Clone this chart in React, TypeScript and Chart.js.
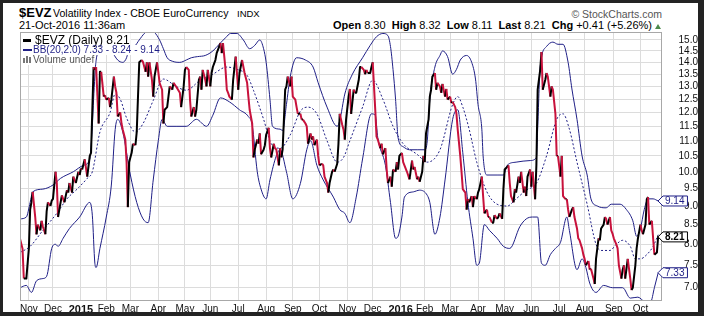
import React, { useEffect, useRef } from "react";
import { Chart, registerables } from "chart.js";

Chart.register(...registerables);

const FONT = "'Liberation Sans', Arial, Helvetica, sans-serif";
const NAVY = "#1f1f86";
const RED = "#c8123c";
const BLACK = "#000000";
const GRID = "#dcdcdc";

// x = trading-day number: 0 = 23-Oct-2014 ... 503 = 21-Oct-2016
const monthDay = [7, 26, 48, 68, 87, 109, 130, 150, 172, 194, 215, 236, 258, 278, 300, 319, 339, 361, 382, 403, 425, 445, 468, 489];
const monthLabel = ["Nov", "Dec", "2015", "Feb", "Mar", "Apr", "May", "Jun", "Jul", "Aug", "Sep", "Oct", "Nov", "Dec", "2016", "Feb", "Mar", "Apr", "May", "Jun", "Jul", "Aug", "Sep", "Oct"];
const yTicks = [7.0, 7.5, 8.0, 8.5, 9.0, 9.5, 10.0, 10.5, 11.0, 11.5, 12.0, 12.5, 13.0, 13.5, 14.0, 14.5, 15.0];

const lastPrice = 8.21;
const bbLower = 7.33;
const bbMiddle = 8.24;
const bbUpper = 9.14;

const evzClose: [number, number][] = [
  [0,8.14],[2,7.89],[3,7.2],[5,7.2],[7,7.9],[8,8.9],[9,9.1],[10,9.4],[12,8.7],[13,8.25],[14,8.5],[16,8.35],[17,8.6],[18,8.45],[20,8.25],[21,8.85],[22,9.1],[24,9.0],[25,9.15],[26,9.2],[28,10.0],[29,9.66],[30,8.7],[32,9.1],[33,9.3],[34,9.2],[35,9.1],[37,9.45],[38,9.38],[39,9.66],[41,9.38],[42,9.85],[44,9.66],[46,10.0],[47,9.9],[48,10.1],[49,10.07],[51,10.39],[53,9.85],[55,10.5],[56,10.6],
  [58,13.8],[59,13.68],[60,13.8],[62,11.6],[63,13.6],[64,13.6],[66,12.6],[67,12.65],[68,12.48],[70,12.55],[71,12.2],[72,12.48],[74,13.4],[75,13.0],[76,12.75],[77,11.85],[79,12.0],[80,11.6],[81,11.38],[83,11.04],[84,10.3],[85,8.97],[86,10.3],[88,10.6],[89,10.9],[91,10.85],[92,11.3],[93,12.6],[94,14.0],[96,14.1],[97,14.0],[99,13.6],[100,14.0],[101,13.4],[102,14.0],[104,13.27],[105,12.6],[106,13.4],[108,14.0],[109,13.6],[110,13.15],[112,12.87],[113,11.6],[114,12.1],[116,12.2],[117,12.6],[118,13.0],[120,12.87],[121,13.15],[123,13.0],[126,12.75],[127,12.2],[129,13.0],[130,13.68],[131,13.8],[133,13.68],[134,12.48],[135,11.85],[137,12.2],[138,11.85],[139,12.1],
  [141,13.27],[142,13.4],[143,12.87],[144,13.68],[146,13.27],[147,13.0],[148,13.68],[150,13.0],[151,13.55],[152,13.8],[154,14.1],[155,14.4],[156,14.55],[158,14.85],[159,14.4],[160,14.85],[162,13.68],[163,12.87],[164,12.75],[165,12.6],[167,12.48],[168,13.27],[170,14.25],[172,12.87],[173,13.55],[175,14.1],[177,13.55],[179,13.15],[180,12.6],[181,12.1],[183,11.6],[184,10.45],[185,10.7],[187,11.04],[188,10.9],[189,11.25],[190,10.55],[192,10.7],[193,10.85],[194,11.2],[196,11.45],[197,10.75],[198,10.45],[200,10.9],[201,10.75],[202,10.71],[204,10.2],[205,10.75],[206,10.45],[207,10.71],
  [209,12.87],[210,13.0],[211,13.4],[213,13.0],[214,13.4],[215,12.6],[217,12.48],[218,12.2],[219,11.95],[221,11.95],[222,11.74],[223,11.74],[225,11.6],[226,11.5],[227,10.9],[229,11.25],[230,11.04],[231,11.15],[232,10.85],[234,11.04],[235,10.5],[236,10.2],[238,10.25],[239,10.2],[240,9.85],[242,9.66],[243,9.38],[244,9.66],[246,10.0],[247,10.07],[248,10.0],[250,10.25],[251,10.9],[252,11.95],[254,11.55],[255,11.38],[256,11.04],[257,11.74],[259,12.6],[260,12.9],[261,11.95],[263,12.87],[264,12.75],[265,12.75],[267,13.27],[268,13.8],[269,13.8],[271,13.68],[272,13.5],[273,13.68],[274,13.55],[276,13.55],[277,13.8],[278,14.0],
  [280,12.1],[281,11.14],[282,11.04],[284,10.75],[285,10.9],[286,10.55],[288,10.75],[289,10.07],[290,9.66],[292,9.85],[293,9.55],[294,10.07],[296,10.0],[297,10.3],[298,10.07],[299,10.5],[301,10.6],[302,10.3],[305,10.0],[307,9.77],[309,10.35],[310,10.07],[311,10.15],[313,9.77],[314,9.85],[315,9.7],[317,10.0],[318,10.5],[319,10.3],[320,11.25],[322,11.74],[323,12.6],[324,12.87],[325,13.4],[327,13.55],[328,12.87],[329,13.15],[331,13.0],[332,12.75],[333,13.1],[335,12.6],[336,12.9],[337,12.48],[339,12.6],[340,12.35],[341,12.4],[343,12.2],[344,11.95],[345,11.38],[347,10.5],[348,10.0],[349,9.48],[351,9.38],[352,8.9],[353,9.19],[354,9.1],[356,9.28],[357,8.97],[358,9.28],[360,9.19],[361,9.38],[362,9.48],[364,9.85],[365,9.28],[366,8.8],[368,8.9],[369,8.7],[370,8.7],[372,8.55],[373,8.55],[374,8.75],[376,8.65],[377,8.7],[378,8.8],[380,8.65],
  [381,9.48],[382,10.07],[384,10.15],[385,10.2],[386,9.66],[387,9.28],[389,9.1],[390,9.48],[391,9.38],[393,9.85],[394,9.66],[395,10.0],[397,9.38],[398,9.55],[399,9.28],[400,9.85],[402,10.07],[403,9.55],[404,10.0],[406,9.19],[407,10.2],[408,12.87],[410,13.68],[411,14.45],[412,12.87],[414,13.27],[415,13.55],[416,13.4],[418,12.6],[419,13.0],[420,12.87],[422,11.95],[423,10.5],[424,10.5],[426,9.85],[427,10.5],[428,9.28],[430,9.19],[431,9.19],[432,8.9],[433,8.7],[435,8.9],[436,8.97],[437,8.7],[439,8.4],[440,8.15],[441,8.1],[443,7.9],[444,7.75],[445,7.65],[446,7.5],[448,7.6],[449,7.4],[450,7.42],[452,7.2],[453,7.08],
  [454,7.65],[456,8.15],[457,8.1],[458,8.4],[460,8.5],[461,8.7],[462,8.65],[463,8.5],[465,8.7],[466,8.35],[467,8.27],[468,8.15],[470,8.0],[471,7.9],[472,7.5],[474,7.2],[475,7.4],[476,7.5],[477,7.2],[478,7.42],[479,7.65],[481,7.2],[482,6.95],[483,7.0],[485,7.5],[486,7.9],[487,8.14],[489,8.5],[490,8.35],[491,8.25],[493,8.5],[494,9.19],[495,9.25],[496,8.5],[498,8.6],[499,8.15],[500,7.75],[502,7.8],[503,8.21],
];

const bbUpperBand: [number, number][] = [
  [0,8.65],[5,8.7],[8,9.1],[10,9.4],[18,9.48],[26,9.6],[32,9.8],[42,10.0],[50,10.2],[55,10.4],[57,11.5],[58,12.5],[60,14.1],[63,14.5],[68,14.7],[72,14.5],[77,14.1],[81,14.0],[84,14.2],[86,14.6],[90,14.7],[94,15.0],[98,15.3],[102,15.45],[106,15.35],[110,15.0],[113,14.6],[116,14.2],[120,14.05],[126,14.0],[131,14.1],[135,14.2],[140,14.25],[146,14.3],[152,14.5],[157,14.8],[162,15.1],[166,15.3],[171,15.3],[176,15.0],[181,14.6],[185,14.75],[189,15.0],[192,14.6],[194,14.0],[197,12.5],[199,11.5],[205,11.4],[207,11.35],[210,12.3],[213,13.4],[218,14.2],[225,14.1],[231,13.8],[235,13.15],[242,12.2],[250,11.5],[252,11.7],[256,12.7],[262,13.5],[270,14.2],[276,14.75],[281,15.15],[286,15.3],[290,15.2],[292,14.7],[294,13.7],[296,12.5],[298,11.1],[302,10.8],[307,10.7],[313,10.7],[319,10.7],[321,11.0],[323,12.5],[327,13.8],[331,14.3],[333,14.5],[337,14.25],[341,13.5],[344,13.7],[347,14.1],[352,14.3],[356,14.0],[359,13.3],[361,12.3],[364,11.4],[365,10.5],[368,9.9],[376,9.9],[381,9.9],[384,10.2],[391,10.3],[402,10.35],[407,10.45],[408,11.4],[410,13.8],[415,14.7],[420,14.9],[424,14.8],[428,14.8],[432,14.0],[435,12.9],[439,11.75],[443,10.5],[447,9.9],[450,9.2],[455,9.0],[462,8.95],[466,9.05],[473,9.05],[478,8.9],[483,8.6],[486,8.2],[489,8.4],[492,8.9],[495,9.2],[499,9.2],[503,9.14],
];

const bbMiddleBand: [number, number][] = [
  [0,7.8],[8,7.95],[18,8.35],[29,8.8],[37,9.2],[45,9.48],[53,9.8],[57,10.0],[63,11.3],[71,12.0],[75,12.7],[79,12.5],[84,11.8],[91,11.3],[97,11.6],[105,12.45],[113,13.3],[123,13.0],[131,12.85],[142,13.25],[152,13.5],[163,13.8],[171,13.7],[179,13.45],[184,12.85],[192,11.75],[198,10.9],[205,10.75],[213,11.2],[221,12.05],[227,12.2],[234,11.95],[242,11.0],[250,10.3],[255,10.45],[260,11.0],[270,12.2],[278,13.25],[286,12.5],[294,11.5],[302,10.9],[313,10.55],[321,10.3],[331,10.7],[341,12.3],[345,12.6],[349,12.2],[354,11.4],[360,10.3],[368,9.4],[376,9.05],[384,9.0],[391,9.2],[399,9.45],[407,9.65],[415,10.5],[423,11.75],[428,11.95],[433,11.4],[439,10.3],[447,9.05],[454,8.0],[458,7.85],[465,7.85],[470,8.0],[475,8.1],[481,7.95],[485,7.65],[489,7.65],[494,7.75],[499,7.95],[503,8.24],
];

const bbLowerBand: [number, number][] = [
  [0,7.0],[5,7.05],[9,6.9],[13,7.15],[18,7.2],[21,7.25],[25,7.9],[28,8.0],[30,7.95],[34,8.15],[39,8.4],[47,8.7],[55,9.1],[57,8.75],[59,7.55],[60,7.45],[63,7.9],[68,8.7],[72,9.6],[75,11.38],[77,11.75],[81,11.3],[87,9.9],[92,9.1],[97,8.65],[101,8.55],[105,9.75],[109,11.0],[112,11.75],[116,11.5],[123,11.5],[131,11.5],[139,11.75],[147,11.5],[152,11.9],[158,12.55],[165,12.4],[173,12.1],[180,11.85],[183,11.55],[187,10.0],[190,9.48],[194,9.2],[197,9.75],[202,10.5],[205,10.7],[210,10.0],[215,9.2],[221,9.65],[226,10.7],[229,11.0],[234,10.2],[239,9.75],[247,9.25],[252,8.9],[256,8.8],[260,8.55],[265,9.25],[270,10.4],[277,11.95],[280,11.9],[282,11.1],[288,10.2],[292,9.1],[296,8.15],[298,8.2],[301,8.7],[303,9.25],[310,9.4],[315,9.45],[321,9.3],[323,9.1],[327,8.25],[331,8.7],[335,9.75],[341,11.75],[345,12.1],[349,10.6],[353,9.1],[357,8.15],[360,7.5],[362,7.55],[366,8.5],[370,8.35],[376,8.15],[381,7.95],[386,7.9],[394,8.45],[399,8.65],[404,8.7],[408,8.7],[411,7.55],[414,7.5],[418,7.75],[422,7.9],[426,8.05],[431,8.7],[433,8.35],[439,7.4],[443,7.65],[446,7.45],[449,7.1],[454,6.9],[460,7.05],[467,7.0],[475,7.0],[481,6.78],[487,6.8],[493,6.7],[497,6.7],[500,7.0],[503,7.33],
];

const toPoints = (s: [number, number][]) => s.map(([x, y]) => ({ x, y }));

function drawTag(ctx: CanvasRenderingContext2D, x: number, y: number, text: string, color: string, bold: boolean) {
  ctx.font = `${bold ? "bold " : ""}10px ${FONT}`;
  const w = ctx.measureText(text).width;
  const h = 10;
  ctx.beginPath();
  ctx.moveTo(x - 4, y);
  ctx.lineTo(x + 1, y - h / 2);
  ctx.lineTo(x + w + 6, y - h / 2);
  ctx.lineTo(x + w + 6, y + h / 2);
  ctx.lineTo(x + 1, y + h / 2);
  ctx.closePath();
  ctx.fillStyle = "#ffffff";
  ctx.fill();
  ctx.strokeStyle = color;
  ctx.lineWidth = 1;
  ctx.stroke();
  ctx.fillStyle = color;
  ctx.textAlign = "left";
  ctx.textBaseline = "middle";
  ctx.fillText(text, x + 3, y + 0.5);
}

const overlayPlugin = {
  id: "overlay",
  afterDraw(chart: any) {
    const { ctx, chartArea: a } = chart;
    const ys = chart.scales.y;
    ctx.save();
    ctx.strokeStyle = "#a8a8a8";
    ctx.lineWidth = 1;
    ctx.strokeRect(a.left + 0.5, a.top + 0.5, a.right - a.left - 1, a.bottom - a.top - 1);

    // legend
    const t1 = `$EVZ (Daily) ${lastPrice.toFixed(2)}`;
    const t2 = `BB(20,2.0) ${bbLower.toFixed(2)} - ${bbMiddle.toFixed(2)} - ${bbUpper.toFixed(2)}`;
    const t3 = "Volume undef";
    ctx.font = `12px ${FONT}`;
    const w1 = ctx.measureText(t1).width;
    ctx.font = `10px ${FONT}`;
    const w2 = ctx.measureText(t2).width;
    const w3 = ctx.measureText(t3).width;
    ctx.fillStyle = "#ffffff";
    ctx.fillRect(a.left + 1, a.top + 1, 35 + w1 - a.left, 12);
    ctx.fillRect(a.left + 1, a.top + 13, 33 + w2 - a.left, 10);
    ctx.fillRect(a.left + 1, a.top + 23, 33 + w3 - a.left, 10);
    ctx.fillStyle = BLACK;
    ctx.fillRect(23, 39, 8, 3);
    ctx.fillStyle = NAVY;
    ctx.fillRect(23, 49, 9, 2);
    ctx.fillStyle = "#777";
    ctx.fillRect(23, 58, 2, 5);
    ctx.fillRect(26, 56, 2, 7);
    ctx.fillRect(29, 57, 2, 6);
    ctx.textAlign = "left";
    ctx.textBaseline = "middle";
    ctx.font = `12px ${FONT}`;
    ctx.fillStyle = BLACK;
    ctx.fillText(t1, 35, 40.5);
    ctx.font = `10px ${FONT}`;
    ctx.fillStyle = NAVY;
    ctx.fillText(t2, 33, 50.5);
    ctx.fillStyle = "#555";
    ctx.fillText(t3, 33, 60.5);

    // right-hand value tags
    const tx = a.right;
    drawTag(ctx, tx, ys.getPixelForValue(bbUpper), bbUpper.toFixed(2), NAVY, false);
    drawTag(ctx, tx, ys.getPixelForValue(bbLower), bbLower.toFixed(2), NAVY, false);
    drawTag(ctx, tx, ys.getPixelForValue(lastPrice) + 1, lastPrice.toFixed(2), BLACK, true);
    ctx.restore();
  },
};

function ChartCanvas() {
  const ref = useRef<HTMLCanvasElement | null>(null);
  useEffect(() => {
    if (!ref.current) return;
    const band = { borderColor: NAVY, borderWidth: 1, pointRadius: 0, cubicInterpolationMode: "monotone" };
    const chart = new Chart(ref.current, {
      type: "line",
      data: {
        datasets: [
          {
            label: "$EVZ",
            data: toPoints(evzClose),
            borderColor: RED,
            borderWidth: 2,
            pointRadius: 0,
            tension: 0,
            borderJoinStyle: "round",
            segment: {
              borderColor: (c: any) => (c.p1.parsed.y < c.p0.parsed.y ? RED : BLACK),
            },
          } as any,
          { label: "upper", data: toPoints(bbUpperBand), ...band } as any,
          { label: "middle", data: toPoints(bbMiddleBand), ...band, borderDash: [2, 2] } as any,
          { label: "lower", data: toPoints(bbLowerBand), ...band } as any,
        ],
      },
      options: {
        animation: false,
        responsive: false,
        maintainAspectRatio: false,
        devicePixelRatio: 1,
        layout: { padding: { left: 20, top: 32, right: 6, bottom: 4 } },
        plugins: { legend: { display: false }, tooltip: { enabled: false } },
        scales: {
          x: {
            type: "linear",
            min: 0,
            max: 506,
            afterBuildTicks: (s: any) => {
              s.ticks = monthDay.map((v) => ({ value: v }));
            },
            afterFit: (s: any) => {
              s.height = 11;
            },
            ticks: {
              autoSkip: false,
              maxRotation: 0,
              padding: 2,
              color: "#111",
              callback: (_v: any, i: number) => monthLabel[i],
              font: (c: any) =>
                /^\d{4}$/.test(monthLabel[c.index] || "")
                  ? { family: FONT, size: 11, weight: "bold" }
                  : { family: FONT, size: 10 },
            },
            grid: { color: GRID, drawTicks: false },
            border: { display: false },
          },
          y: {
            type: "logarithmic",
            position: "right",
            min: 6.72,
            max: 15.37,
            afterBuildTicks: (s: any) => {
              s.ticks = yTicks.map((v) => ({ value: v }));
            },
            afterFit: (s: any) => {
              s.width = 36;
            },
            ticks: {
              autoSkip: false,
              crossAlign: "far",
              padding: 5,
              color: "#111",
              font: { family: FONT, size: 10 },
              callback: (v: any) => Number(v).toFixed(1),
            },
            grid: { color: GRID, drawTicks: false },
            border: { display: false },
          },
        },
      } as any,
      plugins: [overlayPlugin],
    });
    return () => chart.destroy();
  }, []);
  return <canvas ref={ref} width={704} height={316} style={{ position: "absolute", left: 0, top: 0, width: 704, height: 316 }} />;
}

export default function App() {
  const abs = (o: React.CSSProperties): React.CSSProperties => ({ position: "absolute", whiteSpace: "pre", fontFamily: FONT, color: "#000", ...o });
  return (
    <div style={{ position: "fixed", left: 0, top: 0, width: 704, height: 316, background: "#232323", overflow: "hidden" }}>
      <div style={{ position: "absolute", left: 3, top: 3, width: 695, height: 309, background: "#ffffff" }} />
      <div style={abs({ left: 19, top: 6, fontSize: 13, lineHeight: "13px", fontWeight: "bold" })}>$EVZ</div>
      <div style={abs({ left: 53, top: 7.5, fontSize: 10.6, lineHeight: "11px" })}>Volatility Index - CBOE EuroCurrency</div>
      <div style={abs({ left: 237, top: 8.5, fontSize: 9.5, lineHeight: "9.5px" })}>INDX</div>
      <div style={abs({ left: 19, top: 20, fontSize: 11, lineHeight: "11px" })}>21-Oct-2016 11:36am</div>
      <div style={abs({ right: 42, top: 8.5, fontSize: 10.5, lineHeight: "10.5px", color: "#555" })}>© StockCharts.com</div>
      <div style={abs({ right: 52, top: 20, fontSize: 11, lineHeight: "11px" })}>
        <b>Open</b> 8.30  <b>High</b> 8.32  <b>Low</b> 8.11  <b>Last</b> 8.21  <b>Chg</b> +0.41 (+5.26%)
      </div>
      <div style={{ position: "absolute", left: 655, top: 24, width: 0, height: 0, borderLeft: "3px solid transparent", borderRight: "3px solid transparent", borderBottom: "5px solid #4c8a4c" }} />
      <ChartCanvas />
    </div>
  );
}
